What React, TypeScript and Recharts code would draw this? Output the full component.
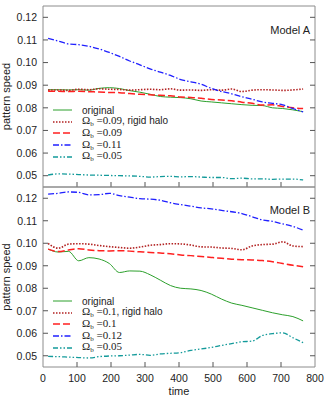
import React from 'react';
import { LineChart, Line, XAxis, YAxis, Legend, ReferenceArea } from 'recharts';

// sampled times (both panels share the grid)
const time = [15, 45, 75, 105, 135, 165, 195, 225, 255, 285, 315, 345, 375, 405, 435, 465, 495, 525, 555, 585, 615, 645, 675, 705, 735, 765];

// Model A
const aOriginal = [0.0880, 0.0880, 0.0879, 0.0880, 0.0878, 0.0886, 0.0889, 0.0885, 0.0876, 0.0869, 0.0860, 0.0850, 0.0847, 0.0845, 0.0840, 0.0830, 0.0826, 0.0822, 0.0818, 0.0814, 0.0811, 0.0810, 0.0800, 0.0797, 0.0791, 0.0783];
const aRigid = [0.0878, 0.0879, 0.0877, 0.0882, 0.0880, 0.0884, 0.0882, 0.0881, 0.0878, 0.0880, 0.0882, 0.0880, 0.0884, 0.0878, 0.0879, 0.0877, 0.0880, 0.0878, 0.0883, 0.0872, 0.0878, 0.0880, 0.0879, 0.0877, 0.0879, 0.0883];
const aMid = [0.0873, 0.0873, 0.0872, 0.0873, 0.0871, 0.0870, 0.0868, 0.0867, 0.0863, 0.0860, 0.0858, 0.0855, 0.0853, 0.0848, 0.0846, 0.0842, 0.0837, 0.0835, 0.0831, 0.0825, 0.0820, 0.0812, 0.0813, 0.0806, 0.0800, 0.0797];
const aHigh = [0.1107, 0.1095, 0.1082, 0.1079, 0.1072, 0.1060, 0.1045, 0.1027, 0.1007, 0.0990, 0.0972, 0.0958, 0.0943, 0.0925, 0.0915, 0.0904, 0.0886, 0.0872, 0.0862, 0.0849, 0.0838, 0.0826, 0.0820, 0.0813, 0.0797, 0.0782];
const aLow = [0.0503, 0.0508, 0.0507, 0.0505, 0.0503, 0.0502, 0.0501, 0.0500, 0.0499, 0.0497, 0.0494, 0.0496, 0.0497, 0.0495, 0.0496, 0.0494, 0.0492, 0.0492, 0.0487, 0.0489, 0.0486, 0.0486, 0.0484, 0.0485, 0.0485, 0.0481];

// Model B
const bOriginal = [0.0974, 0.0961, 0.0964, 0.0922, 0.0936, 0.0930, 0.0910, 0.0870, 0.0877, 0.0876, 0.0860, 0.0836, 0.0812, 0.0800, 0.0797, 0.0790, 0.0774, 0.0752, 0.0734, 0.0724, 0.0713, 0.0702, 0.0691, 0.0682, 0.0674, 0.0655];
const bRigid = [0.0999, 0.0978, 0.0996, 0.0998, 0.0996, 0.0990, 0.0985, 0.0981, 0.0978, 0.0983, 0.0991, 0.0994, 0.0998, 0.0997, 0.0992, 0.0984, 0.0983, 0.0979, 0.0977, 0.0971, 0.0988, 0.0994, 0.0996, 0.1006, 0.0988, 0.0985];
const bMid = [0.0974, 0.0963, 0.0970, 0.0976, 0.0970, 0.0967, 0.0966, 0.0967, 0.0965, 0.0962, 0.0959, 0.0957, 0.0953, 0.0948, 0.0945, 0.0941, 0.0937, 0.0933, 0.0929, 0.0927, 0.0926, 0.0923, 0.0918, 0.0910, 0.0902, 0.0896];
const bHigh = [0.1218, 0.1222, 0.1228, 0.1226, 0.1215, 0.1216, 0.1222, 0.1212, 0.1205, 0.1198, 0.1196, 0.1191, 0.1180, 0.1172, 0.1165, 0.1157, 0.1153, 0.1146, 0.1140, 0.1132, 0.1118, 0.1104, 0.1097, 0.1086, 0.1075, 0.1058];
const bLow = [0.0497, 0.0496, 0.0494, 0.0492, 0.0490, 0.0496, 0.0499, 0.0500, 0.0503, 0.0506, 0.0502, 0.0508, 0.0511, 0.0514, 0.0524, 0.0530, 0.0537, 0.0546, 0.0554, 0.0562, 0.0565, 0.0590, 0.0598, 0.0602, 0.0580, 0.0558];

const xTicks = [0, 100, 200, 300, 400, 500, 600, 700, 800];
const yTicks = [0.05, 0.06, 0.07, 0.08, 0.09, 0.1, 0.11, 0.12];
const xDomain = [0, 800];
const yDomain = [0.045, 0.125];

const sans = 'Liberation Sans, Arial, sans-serif';
const serif = 'Liberation Serif, Times New Roman, serif';
const frame = '#8c8c8c';
const tickColor = '#555';

const styles = [
  { key: 'original', color: '#2ca02c', dash: undefined, width: 1 },
  { key: 'rigid', color: '#b22222', dash: '1.5 1.5', width: 1.6 },
  { key: 'mid', color: '#ff2020', dash: '7 3', width: 1.5 },
  { key: 'high', color: '#2020ff', dash: '6 2 1.5 2', width: 1.3 },
  { key: 'low', color: '#139a9a', dash: '5 2 1.5 2 1.5 2', width: 1.3 },
];

const omega = (v: string, rigid?: boolean) => (
  <>
    <span style={{ fontFamily: serif, fontSize: 11 }}>
      Ω<span style={{ fontSize: 7, position: 'relative', top: 2 }}>b</span> ={v}
    </span>
    {rigid ? ', rigid halo' : ''}
  </>
);

const toRows = (vals: number[][]) =>
  time.map((t, i) => ({ t, original: vals[0][i], rigid: vals[1][i], mid: vals[2][i], high: vals[3][i], low: vals[4][i] }));

const dataA = toRows([aOriginal, aRigid, aMid, aHigh, aLow]);
const dataB = toRows([bOriginal, bRigid, bMid, bHigh, bLow]);

const labelsA = ['original', omega('0.09', true), omega('0.09'), omega('0.11'), omega('0.05')];
const labelsB = ['original', omega('0.1', true), omega('0.1'), omega('0.12'), omega('0.05')];

function LegendBox({ labels }: { labels: React.ReactNode[] }) {
  return (
    <div style={{ fontFamily: sans, fontSize: 10, color: '#222' }}>
      {styles.map((s, i) => (
        <div key={s.key} style={{ display: 'flex', alignItems: 'center', height: 11.6 }}>
          <svg width={19} height={6}>
            <line x1={0} x2={19} y1={3} y2={3} stroke={s.color} strokeWidth={s.width} strokeDasharray={s.dash} />
          </svg>
          <span style={{ marginLeft: 10, whiteSpace: 'nowrap', lineHeight: '11px' }}>{labels[i]}</span>
        </div>
      ))}
    </div>
  );
}

// inward tick marks drawn as paths, labels outside
const XTick = (p: any, dir: number, labels: boolean) => {
  const { x, y, payload } = p;
  const v = payload.value;
  return (
    <g>
      {v > 0 && v < 800 && <path d={`M${x},${y}v${dir * 5}`} stroke={tickColor} strokeWidth={1} fill="none" />}
      {labels && (
        <text x={x} y={y + 15} textAnchor="middle" fontSize={10.5} fontFamily={sans} fill="#222">
          {v}
        </text>
      )}
    </g>
  );
};

const YTick = (p: any, dir: number, labels: boolean) => {
  const { x, y, payload } = p;
  return (
    <g>
      <path d={`M${x},${y}h${dir * 5}`} stroke={tickColor} strokeWidth={1} fill="none" />
      {labels && (
        <text x={x - 6} y={y + 3.8} textAnchor="end" fontSize={10.5} fontFamily={sans} fill="#222">
          {payload.value.toFixed(2)}
        </text>
      )}
    </g>
  );
};

function Panel({ data, labels, height, bottomLabels, legendTop }: any) {
  const common = {
    type: 'number' as const,
    interval: 0 as const,
    allowDataOverflow: true,
    axisLine: false,
    tickLine: false,
    tickSize: 0,
    tickMargin: 0,
  };
  return (
    <LineChart width={329} height={height} data={data} margin={{ top: 5, right: 13, left: 0, bottom: bottomLabels ? 0 : 2 }}>
      <XAxis
        {...common}
        dataKey="t"
        domain={xDomain}
        ticks={xTicks}
        height={bottomLabels ? 33 : 1}
        tick={(p: any) => XTick(p, -1, bottomLabels)}
        label={bottomLabels ? { value: 'time', position: 'insideBottom', offset: 5, fontSize: 11, fontFamily: sans, fill: '#222' } : undefined}
      />
      <XAxis {...common} xAxisId="top" orientation="top" domain={xDomain} ticks={xTicks} height={1} tick={(p: any) => XTick(p, 1, false)} />
      <YAxis
        {...common}
        domain={yDomain}
        ticks={yTicks}
        width={43}
        tick={(p: any) => YTick(p, 1, true)}
        label={{ value: 'pattern speed', angle: -90, position: 'center', dx: -15, fontSize: 11, fontFamily: sans, fill: '#222' }}
      />
      <YAxis {...common} yAxisId="r" orientation="right" domain={yDomain} ticks={yTicks} width={1} tick={(p: any) => YTick(p, -1, false)} />
      <ReferenceArea x1={xDomain[0]} x2={xDomain[1]} y1={yDomain[0]} y2={yDomain[1]} fill="none" stroke={frame} strokeWidth={1} ifOverflow="visible" />
      {styles.map((s) => (
        <Line
          key={s.key}
          dataKey={s.key}
          type="monotone"
          stroke={s.color}
          strokeWidth={s.width}
          strokeDasharray={s.dash}
          dot={false}
          activeDot={false}
          isAnimationActive={false}
        />
      ))}
      <Legend
        layout="vertical"
        verticalAlign="middle"
        align="center"
        wrapperStyle={{ left: 53, top: legendTop, width: 'auto', height: 'auto' }}
        content={() => <LegendBox labels={labels} />}
      />
    </LineChart>
  );
}

export default function App() {
  const tag = { position: 'absolute' as const, right: 19, fontFamily: sans, fontSize: 11, color: '#222', lineHeight: '14px' };
  return (
    <div style={{ position: 'absolute', left: 0, top: 0, width: 329, height: 400, background: '#fff' }}>
      <div style={{ position: 'absolute', left: 0, top: 0 }}>
        <Panel data={dataA} labels={labelsA} height={190} bottomLabels={false} legendTop={104.5} />
      </div>
      <div style={{ position: 'absolute', left: 0, top: 181 }}>
        <Panel data={dataB} labels={labelsB} height={219} bottomLabels={true} legendTop={114.5} />
      </div>
      <div style={{ ...tag, top: 23 }}>Model A</div>
      <div style={{ ...tag, top: 203 }}>Model B</div>
    </div>
  );
}
